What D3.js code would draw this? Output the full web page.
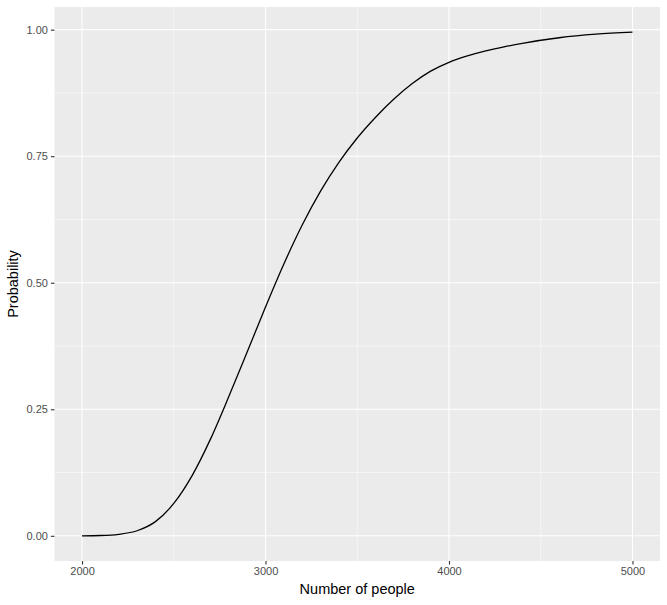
<!DOCTYPE html>
<html><head><meta charset="utf-8">
<script src="https://cdn.jsdelivr.net/npm/d3@7"></script>
<style>body{margin:0;background:#fff}svg{display:block}text{font-family:"Liberation Sans",Arial,Helvetica,sans-serif}</style>
</head><body>
<svg id="c" width="667" height="605"></svg>
<script>
const people = [2000,2100,2200,2300,2400,2500,2600,2700,2800,2900,3000,3100,3200,3300,3400,3500,3600,3700,3800,3900,4000,4100,4200,4300,4400,4600,4800,5000];
const probability = [0.0000,0.0006,0.0030,0.0100,0.0280,0.0640,0.1190,0.1910,0.2750,0.3630,0.4520,0.5370,0.6140,0.6810,0.7380,0.7860,0.8270,0.8630,0.8935,0.9180,0.9355,0.9480,0.9580,0.9660,0.9730,0.9840,0.9910,0.9950];
const xTicks = [2000,3000,4000,5000];
const xMinor = [2500,3500,4500];
const yTicks = [0,0.25,0.5,0.75,1];
const yMinor = [0.125,0.375,0.625,0.875];
const xTitle = "Number of people";
const yTitle = "Probability";

const svg = d3.select("#c");
const L = 54.5, R = 660, T = 7, B = 561;
const xr = [d3.min(people), d3.max(people)], xe = (xr[1]-xr[0])*0.05;
const yr = [d3.min(probability), d3.max(probability)], ye = (yr[1]-yr[0])*0.05;
const x = d3.scaleLinear().domain([xr[0]-xe, xr[1]+xe]).range([L, R]);
const y = d3.scaleLinear().domain([yr[0]-ye, yr[1]+ye]).range([B, T]);

svg.append("rect").attr("x",L).attr("y",T).attr("width",R-L).attr("height",B-T).attr("fill","#EBEBEB");
const g = svg.append("g");
xMinor.forEach(v=>g.append("line").attr("x1",x(v)).attr("x2",x(v)).attr("y1",T).attr("y2",B).attr("stroke","#fff").attr("stroke-width",0.55));
yMinor.forEach(v=>g.append("line").attr("y1",y(v)).attr("y2",y(v)).attr("x1",L).attr("x2",R).attr("stroke","#fff").attr("stroke-width",0.55));
xTicks.forEach(v=>g.append("line").attr("x1",x(v)).attr("x2",x(v)).attr("y1",T).attr("y2",B).attr("stroke","#fff").attr("stroke-width",1.1));
yTicks.forEach(v=>g.append("line").attr("y1",y(v)).attr("y2",y(v)).attr("x1",L).attr("x2",R).attr("stroke","#fff").attr("stroke-width",1.1));

const line = d3.line().x((d,i)=>x(people[i])).y(d=>y(d)).curve(d3.curveMonotoneX);
svg.append("path").datum(probability).attr("d",line).attr("fill","none").attr("stroke","#000").attr("stroke-width",1.3);

const xa = svg.append("g").attr("transform",`translate(0,${B})`)
  .call(d3.axisBottom(x).tickValues(xTicks).tickFormat(d3.format("d")).tickSize(3.6).tickPadding(3));
const ya = svg.append("g").attr("transform",`translate(${L},0)`)
  .call(d3.axisLeft(y).tickValues(yTicks).tickFormat(d3.format(".2f")).tickSize(3.6).tickPadding(3));
[xa,ya].forEach(a=>{
  a.select(".domain").remove();
  a.selectAll(".tick line").attr("stroke","#333").attr("stroke-width",1.1);
  a.selectAll(".tick text").attr("fill","#4D4D4D").style("font-size","11px").style("font-family","'Liberation Sans',Arial,sans-serif");
});
svg.append("text").attr("x",(L+R)/2).attr("y",594).attr("text-anchor","middle").attr("fill","#000").style("font-size","14.5px").text(xTitle);
svg.append("text").attr("transform",`translate(17.5,${(T+B)/2}) rotate(-90)`).attr("text-anchor","middle").attr("fill","#000").style("font-size","14.5px").text(yTitle);
</script>
</body></html>
